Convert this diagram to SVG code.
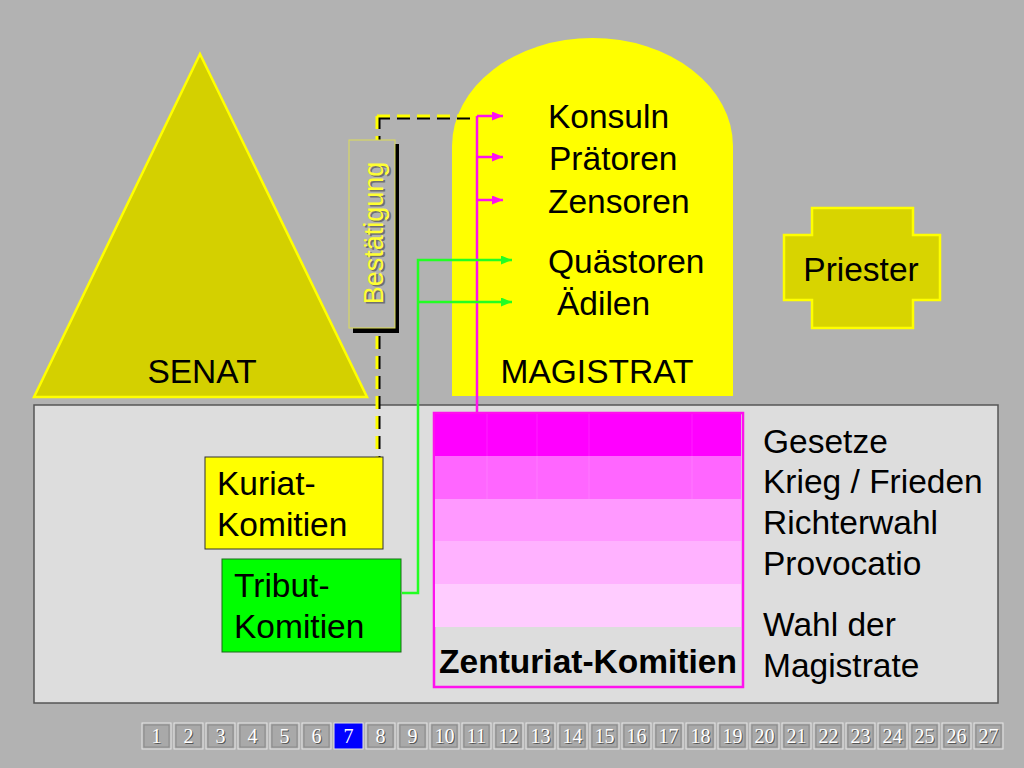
<svg xmlns="http://www.w3.org/2000/svg" width="1024" height="768" viewBox="0 0 1024 768">
<style>
  .t { font-family: "Liberation Sans", Arial, sans-serif; font-size: 33.5px; fill: #000; }
  .tb { font-family: "Liberation Sans", Arial, sans-serif; font-size: 33.5px; font-weight: bold; fill: #000; }
  .btn { fill: #A9A9A9; stroke: #E6E6E6; stroke-width: 1; }
  .btnin { fill: none; stroke: #8A8A8A; stroke-width: 1; }
  .num { font-family: "Liberation Serif", "Times New Roman", serif; font-size: 20px; fill: #FFFFFF; text-anchor: middle; }
  .nums { font-family: "Liberation Serif", "Times New Roman", serif; font-size: 20px; fill: #555555; text-anchor: middle; }
  .mag { stroke: #FF11EE; stroke-width: 2.5; fill: none; }
  .grn { stroke: #22FF22; stroke-width: 2.5; fill: none; }
  .dk { stroke: #000000; stroke-width: 3; stroke-dasharray: 13,7; fill: none; }
  .dy { stroke: #FFFF00; stroke-width: 3; stroke-dasharray: 13,7; fill: none; }
</style>
<defs>
  <marker id="am" markerUnits="userSpaceOnUse" markerWidth="11" markerHeight="9" refX="11" refY="4.5" orient="auto">
    <path d="M0,0 L11,4.5 L0,9 Z" fill="#FF11EE"/>
  </marker>
  <marker id="ag" markerUnits="userSpaceOnUse" markerWidth="11" markerHeight="9" refX="11" refY="4.5" orient="auto">
    <path d="M0,0 L11,4.5 L0,9 Z" fill="#22FF22"/>
  </marker>
</defs>

<rect x="0" y="0" width="1024" height="768" fill="#B2B2B2"/>

<g id="panel">
  <rect x="34" y="405" width="964" height="298" fill="#DDDDDD" stroke="#555555" stroke-width="1.5"/>
</g>

<g id="senat">
  <polygon points="200,54 34,397 367,397" fill="#D4D000" stroke="#FFFF00" stroke-width="2.5"/>
  <text class="t" x="202" y="383" text-anchor="middle">SENAT</text>
</g>

<g id="magistrat">
  <path d="M452,396 L452,146 A140.5,108 0 0 1 733,146 L733,396 Z" fill="#FFFF00"/>
  <text class="t" x="548" y="128">Konsuln</text>
  <text class="t" x="549" y="170">Prätoren</text>
  <text class="t" x="548" y="213">Zensoren</text>
  <text class="t" x="548" y="273">Quästoren</text>
  <text class="t" x="557" y="315">Ädilen</text>
  <text class="t" x="597" y="383" text-anchor="middle">MAGISTRAT</text>
</g>

<g id="priester">
  <path d="M812,208 L913,208 L913,235 L940,235 L940,300 L913,300 L913,328 L812,328 L812,300 L784,300 L784,235 L812,235 Z" fill="#D8D400" stroke="#FFFF00" stroke-width="2.5"/>
  <text class="t" x="861" y="281" text-anchor="middle">Priester</text>
</g>

<g id="connectors">
  <line class="dk" x1="379" y1="116" x2="379" y2="457"/>
  <line class="dk" x1="377" y1="118" x2="475" y2="118"/>
  <line class="dy" x1="377" y1="116" x2="377" y2="457"/>
  <line class="dy" x1="377" y1="116" x2="475" y2="116"/>
  <line class="mag" x1="477" y1="116" x2="477" y2="413"/>
  <line class="mag" x1="477" y1="116" x2="503" y2="116" marker-end="url(#am)"/>
  <line class="mag" x1="477" y1="157" x2="503" y2="157" marker-end="url(#am)"/>
  <line class="mag" x1="477" y1="200" x2="503" y2="200" marker-end="url(#am)"/>
  <path class="grn" d="M402,593 L418,593 L418,260 L512,260" marker-end="url(#ag)"/>
  <line class="grn" x1="418" y1="302" x2="512" y2="302" marker-end="url(#ag)"/>
</g>

<g id="bestaetigung">
  <rect x="353" y="144" width="46" height="189" fill="#000000"/>
  <rect x="349" y="140" width="46" height="188" fill="#B2B2B2" stroke="#DDDD55" stroke-width="1"/>
  <text x="384.5" y="234.5" transform="rotate(-90 384.5 234.5)" text-anchor="middle" font-family="Liberation Sans, Arial, sans-serif" font-size="27" fill="#707070">Bestätigung</text>
  <text x="383" y="233" transform="rotate(-90 383 233)" text-anchor="middle" font-family="Liberation Sans, Arial, sans-serif" font-size="27" fill="#FFFF33">Bestätigung</text>
</g>

<g id="kuriat">
  <rect x="205" y="457" width="178" height="92" fill="#FFFF00" stroke="#333333" stroke-width="1"/>
  <text class="t" x="217" y="495" font-size="32.5">Kuriat-</text>
  <text class="t" x="217" y="536" font-size="32.5">Komitien</text>
</g>

<g id="tribut">
  <rect x="222" y="559" width="179" height="93" fill="#00FF00" stroke="#1A6A1A" stroke-width="1"/>
  <text class="t" x="234" y="597" font-size="32.5">Tribut-</text>
  <text class="t" x="234" y="638" font-size="32.5">Komitien</text>
</g>

<g id="zenturiat">
  <rect x="434" y="413" width="309" height="274" fill="#DDDDDD" stroke="#FF11EE" stroke-width="2.5"/>
  <rect x="435" y="414" width="306" height="42" fill="#FF00FF"/>
  <rect x="435" y="456" width="306" height="43" fill="#FF66FF"/>
  <rect x="435" y="499" width="306" height="42" fill="#FF99FF"/>
  <rect x="435" y="541" width="306" height="43" fill="#FFB2FF"/>
  <rect x="435" y="584" width="306" height="43" fill="#FFCCFF"/>
  <g stroke="#FFFFFF" stroke-opacity="0.12" stroke-width="1">
    <line x1="487" y1="414" x2="487" y2="499"/>
    <line x1="537" y1="414" x2="537" y2="499"/>
    <line x1="589" y1="414" x2="589" y2="499"/>
    <line x1="692" y1="414" x2="692" y2="499"/>
  </g>
  <text class="tb" x="588" y="673" text-anchor="middle">Zenturiat-Komitien</text>
</g>

<g id="befugnisse">
  <text class="t" x="763" y="453" font-size="34">Gesetze</text>
  <text class="t" x="763" y="493" font-size="34">Krieg / Frieden</text>
  <text class="t" x="763" y="534" font-size="34">Richterwahl</text>
  <text class="t" x="763" y="575" font-size="34">Provocatio</text>
  <text class="t" x="763" y="636" font-size="34">Wahl der</text>
  <text class="t" x="763" y="677" font-size="34">Magistrate</text>
</g>

<g id="navigation">
  <g transform="translate(142,723)"><rect class="btn" width="29" height="26"/><rect class="btnin" x="2" y="2" width="25" height="22"/><text class="nums" x="15.5" y="21">1</text><text class="num" x="14.5" y="20">1</text></g>
  <g transform="translate(174,723)"><rect class="btn" width="29" height="26"/><rect class="btnin" x="2" y="2" width="25" height="22"/><text class="nums" x="15.5" y="21">2</text><text class="num" x="14.5" y="20">2</text></g>
  <g transform="translate(206,723)"><rect class="btn" width="29" height="26"/><rect class="btnin" x="2" y="2" width="25" height="22"/><text class="nums" x="15.5" y="21">3</text><text class="num" x="14.5" y="20">3</text></g>
  <g transform="translate(238,723)"><rect class="btn" width="29" height="26"/><rect class="btnin" x="2" y="2" width="25" height="22"/><text class="nums" x="15.5" y="21">4</text><text class="num" x="14.5" y="20">4</text></g>
  <g transform="translate(270,723)"><rect class="btn" width="29" height="26"/><rect class="btnin" x="2" y="2" width="25" height="22"/><text class="nums" x="15.5" y="21">5</text><text class="num" x="14.5" y="20">5</text></g>
  <g transform="translate(302,723)"><rect class="btn" width="29" height="26"/><rect class="btnin" x="2" y="2" width="25" height="22"/><text class="nums" x="15.5" y="21">6</text><text class="num" x="14.5" y="20">6</text></g>
  <g transform="translate(334,723)"><rect width="29" height="26" fill="#0000FF" stroke="#E6E6E6" stroke-width="1"/><text class="num" x="14.5" y="20">7</text></g>
  <g transform="translate(366,723)"><rect class="btn" width="29" height="26"/><rect class="btnin" x="2" y="2" width="25" height="22"/><text class="nums" x="15.5" y="21">8</text><text class="num" x="14.5" y="20">8</text></g>
  <g transform="translate(398,723)"><rect class="btn" width="29" height="26"/><rect class="btnin" x="2" y="2" width="25" height="22"/><text class="nums" x="15.5" y="21">9</text><text class="num" x="14.5" y="20">9</text></g>
  <g transform="translate(430,723)"><rect class="btn" width="29" height="26"/><rect class="btnin" x="2" y="2" width="25" height="22"/><text class="nums" x="15.5" y="21">10</text><text class="num" x="14.5" y="20">10</text></g>
  <g transform="translate(462,723)"><rect class="btn" width="29" height="26"/><rect class="btnin" x="2" y="2" width="25" height="22"/><text class="nums" x="15.5" y="21">11</text><text class="num" x="14.5" y="20">11</text></g>
  <g transform="translate(494,723)"><rect class="btn" width="29" height="26"/><rect class="btnin" x="2" y="2" width="25" height="22"/><text class="nums" x="15.5" y="21">12</text><text class="num" x="14.5" y="20">12</text></g>
  <g transform="translate(526,723)"><rect class="btn" width="29" height="26"/><rect class="btnin" x="2" y="2" width="25" height="22"/><text class="nums" x="15.5" y="21">13</text><text class="num" x="14.5" y="20">13</text></g>
  <g transform="translate(558,723)"><rect class="btn" width="29" height="26"/><rect class="btnin" x="2" y="2" width="25" height="22"/><text class="nums" x="15.5" y="21">14</text><text class="num" x="14.5" y="20">14</text></g>
  <g transform="translate(590,723)"><rect class="btn" width="29" height="26"/><rect class="btnin" x="2" y="2" width="25" height="22"/><text class="nums" x="15.5" y="21">15</text><text class="num" x="14.5" y="20">15</text></g>
  <g transform="translate(622,723)"><rect class="btn" width="29" height="26"/><rect class="btnin" x="2" y="2" width="25" height="22"/><text class="nums" x="15.5" y="21">16</text><text class="num" x="14.5" y="20">16</text></g>
  <g transform="translate(654,723)"><rect class="btn" width="29" height="26"/><rect class="btnin" x="2" y="2" width="25" height="22"/><text class="nums" x="15.5" y="21">17</text><text class="num" x="14.5" y="20">17</text></g>
  <g transform="translate(686,723)"><rect class="btn" width="29" height="26"/><rect class="btnin" x="2" y="2" width="25" height="22"/><text class="nums" x="15.5" y="21">18</text><text class="num" x="14.5" y="20">18</text></g>
  <g transform="translate(718,723)"><rect class="btn" width="29" height="26"/><rect class="btnin" x="2" y="2" width="25" height="22"/><text class="nums" x="15.5" y="21">19</text><text class="num" x="14.5" y="20">19</text></g>
  <g transform="translate(750,723)"><rect class="btn" width="29" height="26"/><rect class="btnin" x="2" y="2" width="25" height="22"/><text class="nums" x="15.5" y="21">20</text><text class="num" x="14.5" y="20">20</text></g>
  <g transform="translate(782,723)"><rect class="btn" width="29" height="26"/><rect class="btnin" x="2" y="2" width="25" height="22"/><text class="nums" x="15.5" y="21">21</text><text class="num" x="14.5" y="20">21</text></g>
  <g transform="translate(814,723)"><rect class="btn" width="29" height="26"/><rect class="btnin" x="2" y="2" width="25" height="22"/><text class="nums" x="15.5" y="21">22</text><text class="num" x="14.5" y="20">22</text></g>
  <g transform="translate(846,723)"><rect class="btn" width="29" height="26"/><rect class="btnin" x="2" y="2" width="25" height="22"/><text class="nums" x="15.5" y="21">23</text><text class="num" x="14.5" y="20">23</text></g>
  <g transform="translate(878,723)"><rect class="btn" width="29" height="26"/><rect class="btnin" x="2" y="2" width="25" height="22"/><text class="nums" x="15.5" y="21">24</text><text class="num" x="14.5" y="20">24</text></g>
  <g transform="translate(910,723)"><rect class="btn" width="29" height="26"/><rect class="btnin" x="2" y="2" width="25" height="22"/><text class="nums" x="15.5" y="21">25</text><text class="num" x="14.5" y="20">25</text></g>
  <g transform="translate(942,723)"><rect class="btn" width="29" height="26"/><rect class="btnin" x="2" y="2" width="25" height="22"/><text class="nums" x="15.5" y="21">26</text><text class="num" x="14.5" y="20">26</text></g>
  <g transform="translate(974,723)"><rect class="btn" width="29" height="26"/><rect class="btnin" x="2" y="2" width="25" height="22"/><text class="nums" x="15.5" y="21">27</text><text class="num" x="14.5" y="20">27</text></g>
</g>
</svg>
